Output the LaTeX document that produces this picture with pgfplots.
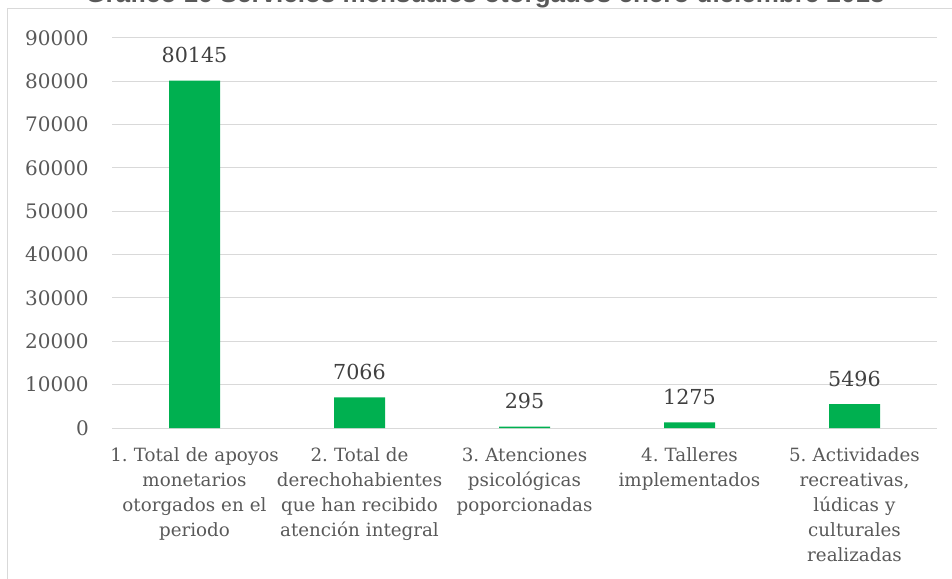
\documentclass[border=0pt]{standalone}
\usepackage{pgfplots}
\pgfplotsset{compat=1.18}
\usepackage{fontspec}
\setmainfont{DejaVu Serif}
\newfontfamily\titlefont{Liberation Sans}
\definecolor{barg}{HTML}{00B050}
\definecolor{gridc}{HTML}{D9D9D9}
\definecolor{tickc}{HTML}{595959}
\definecolor{datac}{HTML}{404040}
\frenchspacing
\begin{document}
\begin{tikzpicture}
\useasboundingbox (0,0) rectangle (714pt,433.5pt);
\draw[gridc, line width=0.75pt] (5.25pt,-10pt) -- (5.25pt,426.75pt) -- (720pt,426.75pt);
\node[anchor=base, font=\titlefont\bfseries\fontsize{19.5}{22}\selectfont, text=tickc] at (363.75pt,431.25pt) {Gráfico 16 Servicios mensuales otorgados enero diciembre 2018};
\begin{axis}[
  at={(84pt,112.5pt)}, anchor=south west,
  scale only axis, width=618.75pt, height=292.5pt,
  xmin=-0.5, xmax=4.5, ymin=0, ymax=90000,
  ytick={0,10000,...,90000},
  scaled ticks=false,
  xtick={0,1,2,3,4},
  xticklabels={
    {1. Total de apoyos\\monetarios\\otorgados en el\\periodo},
    {2. Total de\\derechohabientes\\que han recibido\\atención integral},
    {3. Atenciones\\psicológicas\\poporcionadas},
    {4. Talleres\\implementados},
    {5. Actividades\\recreativas,\\lúdicas y\\culturales\\realizadas}},
  axis line style={draw=none},
  major tick length=0pt,
  ymajorgrids,
  grid style={gridc, line width=0.75pt},
  /pgf/number format/1000 sep={},
  /pgf/number format/assume math mode=true,
  yticklabel style={anchor=east, inner sep=0pt, xshift=-17.25pt, text=tickc, font=\fontsize{15}{18}\selectfont},
  xticklabel style={anchor=north, inner sep=0pt, yshift=-14.75pt, text width=145pt, align=center, text=tickc, font=\fontsize{13.7}{18.75}\selectfont},
  ybar, bar width=38.25pt,
  nodes near coords,
  nodes near coords style={anchor=base, inner sep=0pt, yshift=13.5pt, text=datac, font=\fontsize{15.5}{18}\selectfont},
  clip=false,
]
\addplot[fill=barg, draw=none] coordinates {(0,80145) (1,7066) (2,295) (3,1275) (4,5496)};
\end{axis}
\end{tikzpicture}
\end{document}
